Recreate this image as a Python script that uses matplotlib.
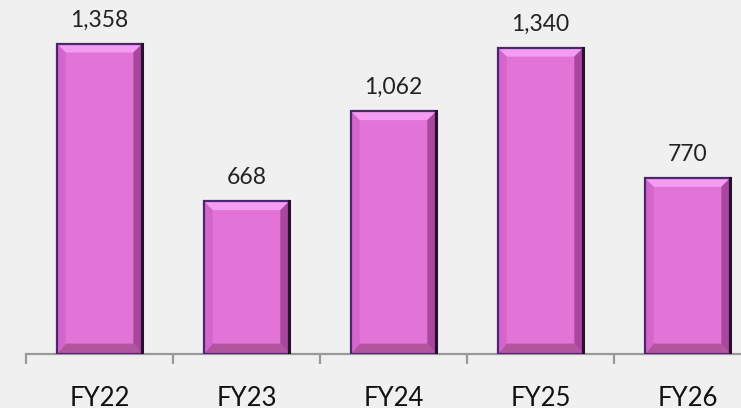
import matplotlib.pyplot as plt
from matplotlib.patches import Polygon, Rectangle
from matplotlib.ticker import FixedLocator

years = ["FY22", "FY23", "FY24", "FY25", "FY26"]
values = [1358, 668, 1062, 1340, 770]

face = "#e273d7"
top_col = "#f49cf1"
bottom_col = "#b2559f"
left_col = "#d466cb"
right_col = "#a9479e"
edge = "#4f2470"
bg = "#f0f0f0"

plt.rcParams['font.family'] = ['Lato', 'DejaVu Sans']

fig = plt.figure(figsize=(7.41, 4.08), dpi=100, facecolor=bg)
ax = fig.add_axes([26 / 741, 54 / 408, 735 / 741, 354 / 408])
ax.set_facecolor(bg)

ax.set_xlim(-0.5, 4.5)
ax.set_ylim(0, 1550)

width = 0.58
bx = 0.06    # bevel size in x (data units)
by = 38      # bevel size in y (data units)

for i, v in enumerate(values):
  x0 = i - width / 2
  x1 = i + width / 2
  ax.add_patch(Rectangle((x0, 0), width, v, facecolor=face, edgecolor="none", zorder=2))
  # bevel sides
  ax.add_patch(Polygon([(x0, v), (x1, v), (x1 - bx, v - by), (x0 + bx, v - by)],
                       facecolor=top_col, edgecolor="none", zorder=3))
  ax.add_patch(Polygon([(x0, 0), (x1, 0), (x1 - bx, by * 1.2), (x0 + bx, by * 1.2)],
                       facecolor=bottom_col, edgecolor="none", zorder=3))
  ax.add_patch(Polygon([(x0, 0), (x0 + bx, by * 1.2), (x0 + bx, v - by), (x0, v)],
                       facecolor=left_col, edgecolor="none", zorder=3))
  ax.add_patch(Polygon([(x1, 0), (x1 - bx, by * 1.2), (x1 - bx, v - by), (x1, v)],
                       facecolor=right_col, edgecolor="none", zorder=3))
  ax.add_patch(Rectangle((x0, 0), width, v, facecolor="none", edgecolor=edge,
                         linewidth=1.6, zorder=4))
  ax.plot([x1, x1], [0, v], color="#2a0f2e", linewidth=2.2, zorder=5)
  ax.annotate("{:,}".format(v), (i, v), xytext=(0, 17), textcoords="offset points",
              ha="center", va="center", fontsize=16.5, color="#222222")

for s in ["top", "right", "left"]:
  ax.spines[s].set_visible(False)
ax.spines["bottom"].set_color("#999999")
ax.spines["bottom"].set_linewidth(1.6)
ax.spines["bottom"].set_zorder(1)

ax.set_yticks([])
ax.set_xticks(range(len(years)))
ax.set_xticklabels(years, fontsize=18.5, color="#111111")
ax.tick_params(axis="x", which="major", length=0, pad=23)
ax.xaxis.set_minor_locator(FixedLocator([i - 0.5 for i in range(len(years) + 1)]))
ax.tick_params(axis="x", which="minor", length=7, width=1.6, color="#999999")

fig.savefig("out.png", dpi=100, facecolor=bg)
